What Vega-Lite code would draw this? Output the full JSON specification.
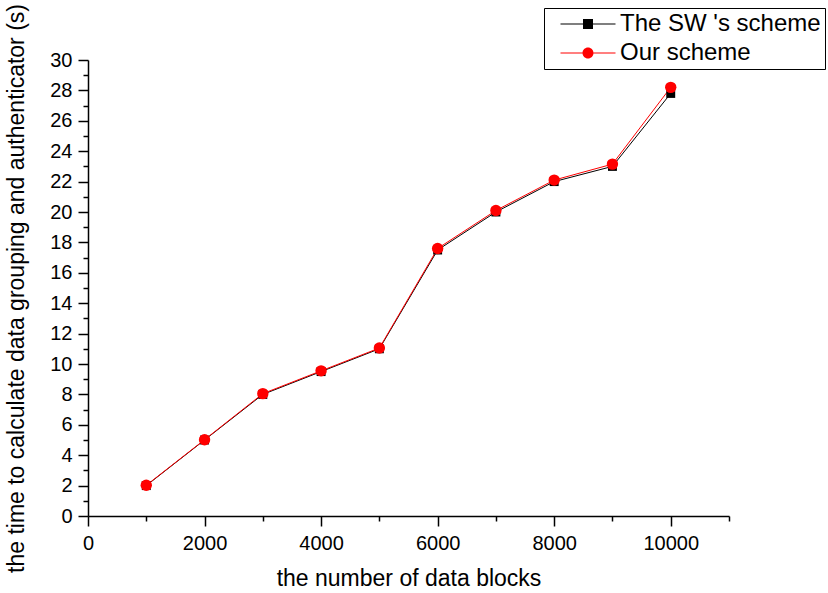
{
  "$schema": "https://vega.github.io/schema/vega-lite/v6.json",
  "width": 641,
  "height": 456,
  "autosize": "none",
  "padding": {"left": 88, "top": 60, "right": 99, "bottom": 77},
  "background": "white",
  "config": {
    "view": {"stroke": null},
    "font": "Liberation Sans",
    "axis": {
      "grid": false,
      "domainColor": "black",
      "domainWidth": 1.5,
      "tickColor": "black",
      "tickWidth": 1.5,
      "labelColor": "black",
      "titleColor": "black",
      "labelFont": "Liberation Sans",
      "titleFont": "Liberation Sans",
      "labelFontSize": 20,
      "titleFontSize": 23,
      "titleFontWeight": "normal"
    },
    "legend": {
      "title": null,
      "orient": "none",
      "legendX": 456,
      "legendY": -52,
      "labelFontSize": 24,
      "labelFont": "Liberation Sans",
      "labelColor": "black",
      "labelLimit": 400,
      "strokeColor": "black",
      "padding": 4,
      "rowPadding": 5,
      "symbolSize": 400,
      "symbolStrokeWidth": 0,
      "symbolOpacity": 1,
      "symbolOffset": 28,
      "labelOffset": 20
    }
  },
  "data": {
    "values": [
      {"blocks": 1000, "time": 2.0, "series": "The SW 's scheme"},
      {"blocks": 2000, "time": 5.0, "series": "The SW 's scheme"},
      {"blocks": 3000, "time": 8.0, "series": "The SW 's scheme"},
      {"blocks": 4000, "time": 9.5, "series": "The SW 's scheme"},
      {"blocks": 5000, "time": 11.0, "series": "The SW 's scheme"},
      {"blocks": 6000, "time": 17.5, "series": "The SW 's scheme"},
      {"blocks": 7000, "time": 20.0, "series": "The SW 's scheme"},
      {"blocks": 8000, "time": 22.0, "series": "The SW 's scheme"},
      {"blocks": 9000, "time": 23.0, "series": "The SW 's scheme"},
      {"blocks": 10000, "time": 27.8, "series": "The SW 's scheme"},
      {"blocks": 1000, "time": 2.02, "series": "Our scheme"},
      {"blocks": 2000, "time": 5.02, "series": "Our scheme"},
      {"blocks": 3000, "time": 8.05, "series": "Our scheme"},
      {"blocks": 4000, "time": 9.55, "series": "Our scheme"},
      {"blocks": 5000, "time": 11.05, "series": "Our scheme"},
      {"blocks": 6000, "time": 17.6, "series": "Our scheme"},
      {"blocks": 7000, "time": 20.1, "series": "Our scheme"},
      {"blocks": 8000, "time": 22.1, "series": "Our scheme"},
      {"blocks": 9000, "time": 23.15, "series": "Our scheme"},
      {"blocks": 10000, "time": 28.2, "series": "Our scheme"}
    ]
  },
  "encoding": {
    "x": {
      "field": "blocks",
      "type": "quantitative",
      "scale": {"domain": [0, 11000], "nice": false, "zero": false},
      "axis": {
        "title": "the number of data blocks",
        "values": [0, 1000, 2000, 3000, 4000, 5000, 6000, 7000, 8000, 9000, 10000, 11000],
        "labelExpr": "datum.value % 2000 === 0 && datum.value <= 10000 ? format(datum.value, 'd') : ''",
        "tickSize": {"condition": {"test": "datum.value % 2000 === 0", "value": 10}, "value": 5},
        "labelPadding": 7,
        "titlePadding": 14,
        "labelFlush": false,
        "labelOverlap": false
      }
    },
    "y": {
      "field": "time",
      "type": "quantitative",
      "scale": {"domain": [0, 30], "nice": false},
      "axis": {
        "title": "the time to calculate data grouping and authenticator (s)",
        "values": [0,1,2,3,4,5,6,7,8,9,10,11,12,13,14,15,16,17,18,19,20,21,22,23,24,25,26,27,28,29,30],
        "labelExpr": "datum.value % 2 === 0 ? datum.label : ''",
        "tickSize": {"condition": {"test": "datum.value % 2 === 0", "value": 10}, "value": 5},
        "labelPadding": 6,
        "titlePadding": 21,
        "labelFlush": false,
        "labelOverlap": false
      }
    },
    "color": {
      "field": "series",
      "type": "nominal",
      "scale": {"domain": ["The SW 's scheme", "Our scheme"], "range": ["#000000", "#ff0000"]}
    }
  },
  "layer": [
    {"mark": {"type": "line", "strokeWidth": 1}},
    {
      "transform": [{"filter": "datum.series === 'The SW \\'s scheme'"}],
      "mark": {"type": "point", "filled": true, "opacity": 1, "shape": "square", "size": 80}
    },
    {
      "transform": [{"filter": "datum.series === 'Our scheme'"}],
      "mark": {"type": "point", "filled": true, "opacity": 1, "shape": "circle", "size": 130}
    },
    {
      "transform": [{"filter": "false"}],
      "mark": {"type": "point", "filled": true, "opacity": 1},
      "encoding": {
        "shape": {
          "field": "series",
          "type": "nominal",
          "scale": {
            "domain": ["The SW 's scheme", "Our scheme"],
            "range": [
              "M-2.75,-0.05H-0.5V0.05H-2.75Z M0.5,-0.05H2.75V0.05H0.5Z M-0.5,-0.5H0.5V0.5H-0.5Z",
              "M-2.75,-0.05H-0.55V0.05H-2.75Z M0.55,-0.05H2.75V0.05H0.55Z M-0.55,0A0.55,0.55 0 1,1 0.55,0A0.55,0.55 0 1,1 -0.55,0Z"
            ]
          }
        }
      }
    }
  ]
}
